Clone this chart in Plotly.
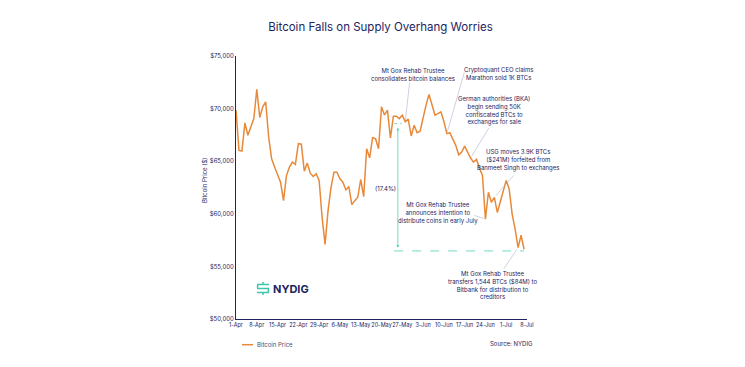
import pandas as pd
import plotly.graph_objects as go

# ---------------- data ----------------
dates = pd.date_range("2024-04-01", "2024-07-07", freq="D")
price = [
    69850, 66030, 65970, 68640, 67470, 68260, 69050, 71830, 69150, 70170,
    70650, 67300, 65230, 64440, 63640, 63000, 61250, 63640, 64440, 64910,
    64690, 66660, 66610, 64050, 64820, 63860, 63550, 63800, 63160, 59660,
    57100, 60300, 62520, 63960, 63960, 63320, 63000, 62270, 62590, 60870,
    61250, 61570, 63260, 61630, 66180, 65320, 67240, 67140, 66180, 70170,
    69380, 69860, 67210, 69280, 69280, 69050, 69380, 68740, 69000, 67400,
    68420, 67710, 67850, 69220, 70330, 71350, 70330, 69380, 69530, 69690,
    68800, 67620, 67710, 67140, 66510, 65610, 65870, 66440, 65870, 65300,
    64910, 65170, 64340, 63640, 59490, 62050, 61090, 61570, 60130, 61090,
    62050, 63160, 62360, 59970, 58540, 56790, 57960, 56630,
]
tick_dates = pd.date_range("2024-04-01", "2024-07-08", freq="7D")
tick_text = ["1-Apr", "8-Apr", "15-Apr", "22-Apr", "29-Apr", "6-May", "13-May",
             "20-May", "27-May", "3-Jun", "10-Jun", "17-Jun", "24-Jun", "1-Jul", "8-Jul"]
y_ticks = [50000, 55000, 60000, 65000, 70000, 75000]
y_tick_text = ["$50,000", "$55,000", "$60,000", "$65,000", "$70,000", "$75,000"]

drawdown_top = 68570
drawdown_bottom = 56470
drawdown_label = "(17.4%)"

events = [  # (index into dates, text)
    (57, "Mt Gox Rehab Trustee<br>consolidates bitcoin balances"),
    (71, "Cryptoquant CEO claims<br>Marathon sold 1K BTCs"),
    (79, "German authorities (BKA)<br>begin sending 50K<br>confiscated BTCs to<br>exchanges for sale"),
    (87, "USG moves 3.9K BTCs<br>($241M) forfeited from<br>Banmeet Singh to exchanges"),
    (84, "Mt Gox Rehab Trustee<br>announces intention to<br>distribute coins in early July"),
    (95, "Mt Gox Rehab Trustee<br>transfers 1,544 BTCs ($84M) to<br>Bitbank for distribution to<br>creditors"),
]

# ---------------- layout helpers (pixel -> paper) ----------------
L, R, T, B = 228, 519, 48, 311
W, H = 745, 367


def px(x):
    return (x - L) / (R - L)


def py(y):
    return (B - y) / (B - T)


NAVY = "#1d2460"
ORANGE = "#e8893a"
TEAL = "#4fd1b8"
LEADER = "#aab3cf"
FONT = "Inter"
SMALL = 6

fig = go.Figure()
fig.add_trace(go.Scatter(x=dates, y=price, mode="lines", name="Bitcoin Price",
                         line=dict(color=ORANGE, width=1.5), showlegend=False))

annotations = []
shapes = []

# event text positions (pixel centres) and leader starting points
text_pos = [(405, 66.5), (490, 65), (486, 102.5), (510, 151.5), (430, 205), (484, 276.5)]
leader_start = [(401.7, 73.5), (456.7, 63), (481.7, 118.5), (507, 166), (465, 207), (495, 262)]

dx = (R - L) / 98.0
for (idx, txt), (tx, ty), (sx, sy) in zip(events, text_pos, leader_start):
    annotations.append(dict(xref="paper", yref="paper", x=px(tx), y=py(ty), text=txt,
                            showarrow=False, xanchor="center", yanchor="middle",
                            align="center", font=dict(family=FONT, size=SMALL, color=NAVY)))
    tx_pix = L + idx * dx
    ty_pix = B - (price[idx] - 50000) / 25000 * (B - T)
    annotations.append(dict(x=dates[idx], y=price[idx], xref="x", yref="y", text="",
                            showarrow=True, arrowhead=0, arrowwidth=0.6, arrowcolor=LEADER,
                            ax=sx - tx_pix, ay=sy - ty_pix, standoff=2))

# drawdown marker
mark_x = pd.Timestamp("2024-05-25 12:00")
annotations.append(dict(x=mark_x, y=drawdown_bottom + 300, xref="x", yref="y",
                        ax=mark_x, ay=drawdown_top - 250, axref="x", ayref="y",
                        text="", showarrow=True, arrowhead=2, arrowside="end+start",
                        arrowsize=0.7, arrowwidth=0.8, arrowcolor=TEAL))
shapes.append(dict(type="line", xref="x", yref="y",
                   x0=pd.Timestamp("2024-05-24 06:00"), x1=pd.Timestamp("2024-05-26 18:00"),
                   y0=drawdown_top, y1=drawdown_top,
                   line=dict(color=TEAL, width=0.8, dash="dot")))
shapes.append(dict(type="line", xref="x", yref="y",
                   x0=pd.Timestamp("2024-05-24 06:00"), x1=dates[-1],
                   y0=drawdown_bottom, y1=drawdown_bottom,
                   line=dict(color=TEAL, width=0.8, dash="dash")))
annotations.append(dict(xref="paper", yref="paper", x=px(377), y=py(180), text=drawdown_label,
                        showarrow=False, xanchor="center", yanchor="middle",
                        font=dict(family=FONT, size=SMALL, color=NAVY)))

# y-axis title
annotations.append(dict(xref="paper", yref="paper", x=px(196), y=py(173), text="Bitcoin Price ($)",
                        textangle=-90, showarrow=False, xanchor="center", yanchor="middle",
                        font=dict(family=FONT, size=SMALL, color=NAVY)))

# legend (manual)
shapes.append(dict(type="line", xref="paper", yref="paper", x0=px(234), x1=px(245),
                   y0=py(336.7), y1=py(336.7), line=dict(color=ORANGE, width=1.5)))
annotations.append(dict(xref="paper", yref="paper", x=px(246.5), y=py(336.7), text="Bitcoin Price",
                        showarrow=False, xanchor="left", yanchor="middle",
                        font=dict(family=FONT, size=SMALL, color="#4a4f70")))
# source
annotations.append(dict(xref="paper", yref="paper", x=px(527), y=py(335.7), text="Source: NYDIG",
                        showarrow=False, xanchor="right", yanchor="middle",
                        font=dict(family=FONT, size=SMALL, color=NAVY)))

# NYDIG logo
LOGO = "#3cc8a8"
for (x0, y0, x1, y1) in [(249, 276.5, 261, 276.5), (249, 280.5, 261, 280.5), (249, 284.5, 261, 284.5),
                         (249.6, 276.5, 249.6, 280.5), (260.4, 280.5, 260.4, 284.5),
                         (255, 274, 255, 276.5), (255, 284.5, 255, 287)]:
    shapes.append(dict(type="line", xref="paper", yref="paper", x0=px(x0), x1=px(x1),
                       y0=py(y0), y1=py(y1), line=dict(color=LOGO, width=1.5)))
annotations.append(dict(xref="paper", yref="paper", x=px(262.5), y=py(280.5), text="<b>NYDIG</b>",
                        showarrow=False, xanchor="left", yanchor="middle",
                        font=dict(family=FONT, size=11, color=NAVY)))

fig.update_layout(
    width=W, height=H,
    margin=dict(l=L, r=W - R, t=T, b=H - B),
    paper_bgcolor="white", plot_bgcolor="white",
    title=dict(text="Bitcoin Falls on Supply Overhang Worries", x=0.5, xanchor="center",
               y=1 - 19 / H, yanchor="middle", font=dict(family=FONT, size=11.5, color=NAVY)),
    xaxis=dict(range=[tick_dates[0], tick_dates[-1]], tickvals=list(tick_dates), ticktext=tick_text,
               tickangle=0, showgrid=False, zeroline=False, showline=True, linecolor=NAVY,
               linewidth=1, ticks="", tickfont=dict(family=FONT, size=5.5, color=NAVY)),
    yaxis=dict(range=[50000, 75000], tickvals=y_ticks, ticktext=y_tick_text,
               showgrid=False, zeroline=False, showline=True, linecolor=NAVY, linewidth=1,
               ticks="", tickfont=dict(family=FONT, size=6, color=NAVY)),
    annotations=annotations, shapes=shapes, showlegend=False,
)

fig.write_html("out.html")
